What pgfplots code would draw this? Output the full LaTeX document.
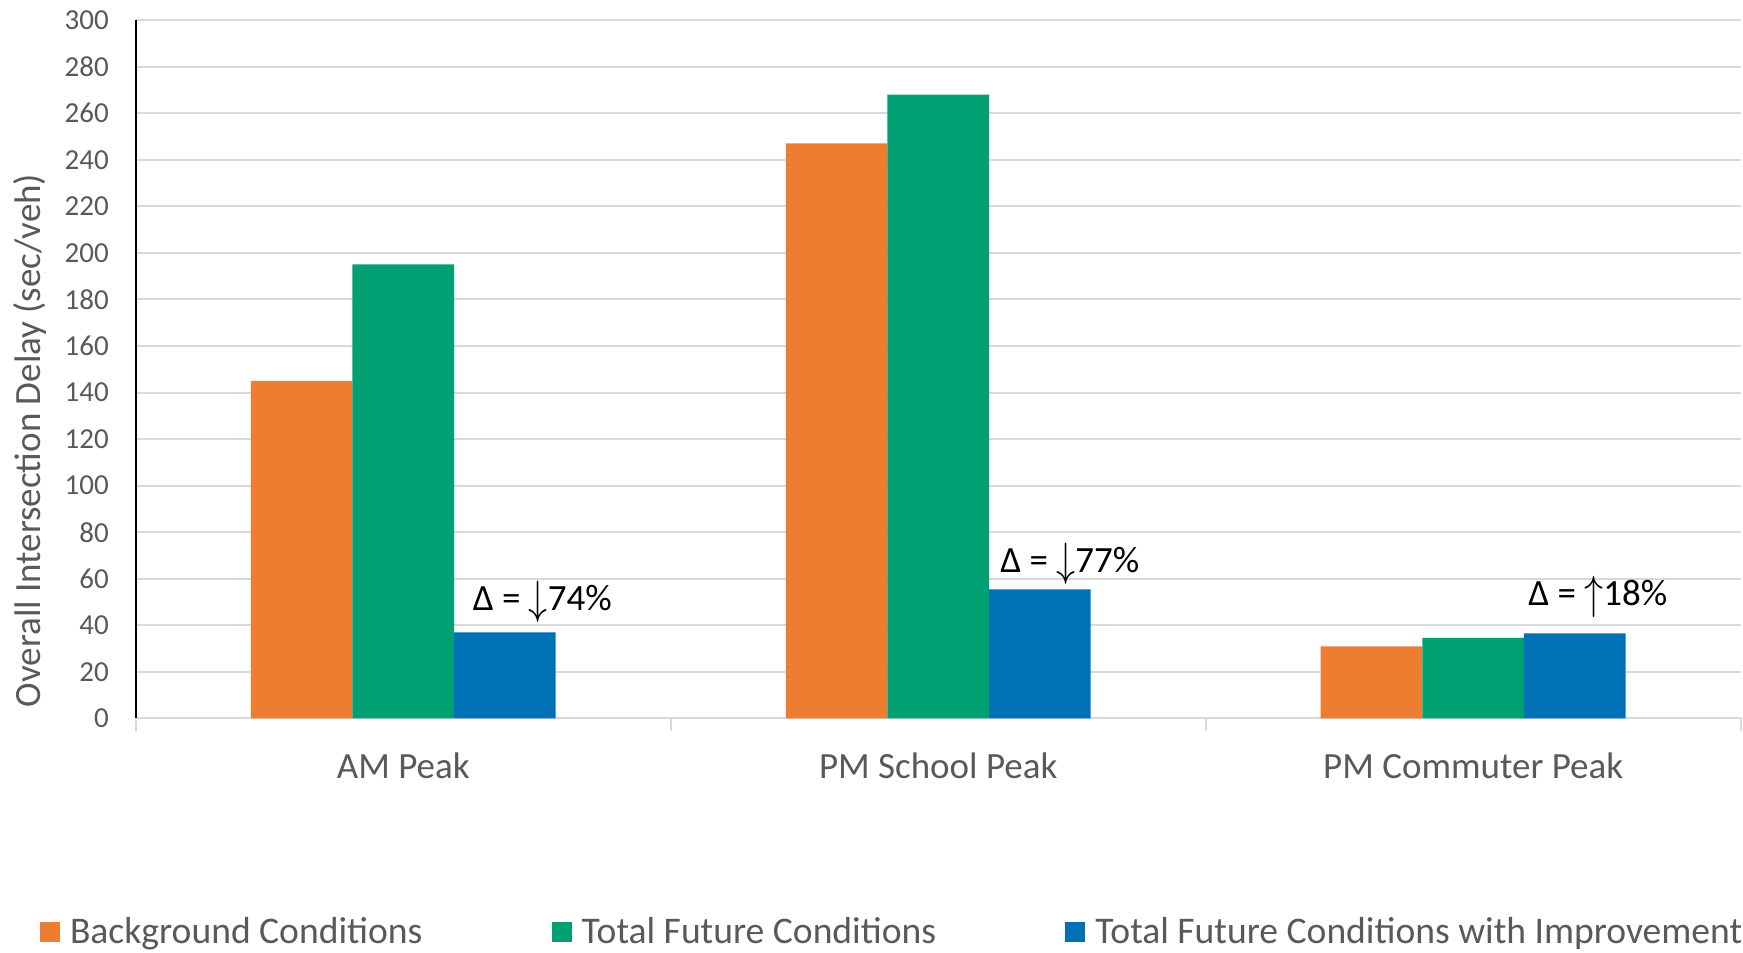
\documentclass[border=0pt]{standalone}
\usepackage{fontspec}
\setmainfont{Carlito}
\usepackage{graphicx}
\usepackage{pgfplots}
\pgfplotsset{compat=1.18}
\definecolor{cOrange}{HTML}{ED7D31}
\definecolor{cGreen}{HTML}{00A073}
\definecolor{cBlue}{HTML}{0071B4}
\definecolor{gridgray}{HTML}{D9D9D9}
\definecolor{txtgray}{HTML}{595959}
\newcommand{\dnarr}{\raisebox{-1.5pt}{\scalebox{1.1}[1.35]{$\downarrow$}}}
\newcommand{\uparr}{\raisebox{-1.5pt}{\scalebox{1.1}[1.35]{$\uparrow$}}}
\begin{document}
\begin{tikzpicture}
\useasboundingbox (0,0) rectangle (871.5pt,476pt);
\begin{axis}[
  at={(67.9pt,116.75pt)}, anchor=south west,
  scale only axis, width=802.4pt, height=349.25pt,
  xmin=-0.5, xmax=2.5, ymin=0, ymax=300,
  ybar=0pt, bar width=0.19,
  axis lines=left, axis line style={-},
  x axis line style={draw=gridgray, line width=1pt},
  y axis line style={draw=black, line width=1pt},
  ymajorgrids, grid style={draw=gridgray, line width=1pt},
  ytick={0,20,...,300},
  ytick style={draw=none},
  major tick length=0pt,
  xtick={0,1,2},
  xticklabels={AM Peak, PM School Peak, PM Commuter Peak},
  extra x ticks={-0.5,0.5,1.5,2.5},
  extra x tick labels={},
  extra x tick style={tick align=outside, major tick length=6.3pt, tick style={draw=gridgray, line width=1pt}},
  /pgf/number format/assume math mode=true,
  tick label style={font=\fontsize{14.5}{17}\selectfont, text=txtgray},
  yticklabel style={inner sep=0pt, anchor=east, xshift=-13.3pt},
  xticklabel style={font=\fontsize{18.5}{22}\selectfont, text=txtgray, inner sep=0pt, anchor=north, yshift=-17.2pt},
  ylabel={Overall Intersection Delay (sec/veh)},
  ylabel style={font=\fontsize{18.5}{22}\selectfont, text=txtgray, at={(axis description cs:-0.066,0.398)}, anchor=center, inner sep=0pt},
  legend columns=3,
  legend cell align=left,
  legend style={at={(axis description cs:-0.0597,-0.305)}, anchor=west, draw=none, fill=none, inner sep=0pt, outer sep=0pt, font=\fontsize{18.8}{22}\selectfont, text=txtgray, nodes={inner sep=0pt}, /tikz/every odd column/.append style={column sep=5pt}, /tikz/every even column/.append style={column sep=64.6pt}},
  legend image code/.code={\fill[#1] (0pt,-5pt) rectangle (10pt,5pt);},
  clip=false,
]
\addplot[fill=cOrange, draw=none] coordinates {(0,145) (1,247) (2,31)};
\addplot[fill=cGreen, draw=none] coordinates {(0,195) (1,268) (2,34.6)};
\addplot[fill=cBlue, draw=none] coordinates {(0,37) (1,55.5) (2,36.6)};
\legend{Background Conditions, Total Future Conditions, Total Future Conditions with Improvement}
\node[font=\fontsize{18.5}{22}\selectfont, text=black, inner sep=0pt] at (axis cs:0.26,50.2) {Δ = \dnarr74\%};
\node[font=\fontsize{18.5}{22}\selectfont, text=black, inner sep=0pt] at (axis cs:1.246,66.5) {Δ = \dnarr77\%};
\node[font=\fontsize{18.5}{22}\selectfont, text=black, inner sep=0pt] at (axis cs:2.233,52.2) {Δ = \uparr18\%};
\end{axis}
\end{tikzpicture}
\end{document}
